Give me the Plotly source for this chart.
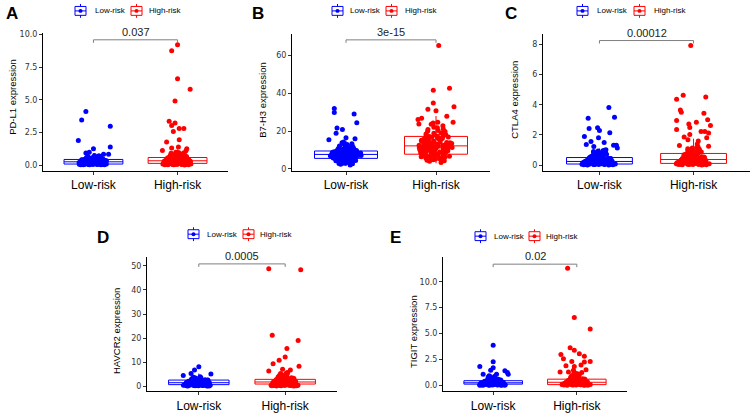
import plotly.graph_objects as go

W, H = 753, 417
BLUE = '#0000FF'
RED = '#FF0000'
GROUPS = ['Low-risk', 'High-risk']
GENES = ['PD-L1', 'B7-H3', 'CTLA4', 'HAVCR2', 'TIGIT']
LETTERS = ['A', 'B', 'C', 'D', 'E']
P_VALUES = ['0.037', '3e-15', '0.00012', '0.0005', '0.02']

# ==================== DATA ====================
# dense bulk of each group (jittered by plotly), plus the scattered upper points
# with their horizontal jitter offsets
A_low_dense = [0.02, 0.05, 0.04, 0.11, 0.08, 0.15, 0.03, 0.19, 0.22, 0.12, 0.27, 0.09, 0.31, 0.18, 0.06,
               0.24, 0.35, 0.14, 0.29, 0.41, 0.07, 0.21, 0.33, 0.16, 0.38, 0.45, 0.10, 0.26, 0.52, 0.13,
               0.30, 0.47, 0.02, 0.20, 0.36, 0.58, 0.17, 0.25, 0.43, 0.08, 0.34, 0.62, 0.23, 0.12, 0.39,
               0.50, 0.05, 0.28, 0.44, 0.19, 0.55, 0.32, 0.15, 0.40, 0.66, 0.09, 0.26, 0.48, 0.21, 0.37,
               0.04, 0.30, 0.57, 0.14, 0.42, 0.71, 0.18, 0.24, 0.35, 0.60, 0.11, 0.27, 0.06, 0.33, 0.19,
               0.46, 0.02, 0.23, 0.38, 0.14, 0.52, 0.29, 0.08, 0.41, 0.17, 0.64, 0.25, 0.03, 0.36, 0.12,
               0.49, 0.21, 0.31, 0.07, 0.56, 0.16, 0.44, 0.27, 0.10, 0.68, 0.34, 0.20, 0.05, 0.39, 0.15,
               0.53, 0.28, 0.74, 0.22, 0.13]
A_low_out = [4.11, 3.46, 2.98, 1.89, 1.39, 1.26, 0.93, 0.98, 0.83, 0.83]
A_low_off = [-0.09, -0.14, 0.20, -0.18, 0.20, 0.00, -0.09, -0.05, 0.12, 0.18]
A_high_dense = [0.03, 0.08, 0.12, 0.05, 0.18, 0.25, 0.10, 0.31, 0.15, 0.42, 0.07, 0.22, 0.36, 0.58, 0.02,
                0.19, 0.28, 0.47, 0.13, 0.65, 0.33, 0.09, 0.24, 0.51, 0.72, 0.16, 0.39, 0.04, 0.27, 0.60,
                0.83, 0.11, 0.35, 0.45, 0.21, 0.68, 0.06, 0.30, 0.55, 0.92, 0.14, 0.40, 0.26, 0.77, 0.01,
                0.18, 0.49, 0.63, 0.34, 0.10, 0.87, 0.23, 0.44, 0.57, 0.07, 0.29, 0.70, 0.38, 0.15, 0.53,
                0.96, 0.20, 0.32, 0.80, 0.12, 0.46, 0.62, 0.25, 0.74, 0.05, 0.37, 0.04, 0.21, 0.43, 0.09,
                0.31, 0.66, 0.15, 0.52, 0.27, 0.85, 0.02, 0.36, 0.19, 0.59, 0.12, 0.41, 0.73, 0.24, 0.06,
                0.48, 0.33, 0.90, 0.17, 0.56, 0.28, 0.11, 0.68, 0.38, 0.22, 0.79, 0.08, 0.45, 0.30, 0.99,
                0.14, 0.61, 0.26, 0.50, 0.03, 0.35]
A_high_out = [9.22, 8.76, 6.62, 5.81, 4.92, 3.36, 3.23, 3.03, 2.80, 2.80, 2.58, 1.95, 1.77, 1.26, 1.30,
              1.11, 1.38, 1.10]
A_high_off = [0.00, -0.07, 0.00, 0.15, -0.03, -0.10, -0.03, -0.07, 0.02, 0.075, -0.05, 0.02, -0.13, 0.11,
              -0.07, -0.18, 0.01, 0.10]

B_low_dense = [2.1, 3.0, 3.8, 4.5, 5.2, 5.9, 6.3, 7.0, 7.4, 8.1, 8.6, 9.2, 10.0, 11.3, 12.5, 13.8, 4.2, 5.5,
               6.8, 7.7, 8.4, 9.6, 3.4, 6.1, 7.2, 8.9, 10.6, 12.0, 5.0, 6.6, 7.9, 9.0, 2.7, 4.8, 6.0, 7.5,
               8.3, 11.8, 14.2, 5.7, 6.9, 8.0, 9.4, 3.9, 6.4, 7.1, 8.7, 10.3, 4.4, 5.3, 7.6, 9.8, 12.9, 6.2,
               7.3, 8.2, 2.5, 5.1, 6.7, 9.1, 11.0, 4.0, 7.8, 10.8, 13.1, 5.8, 6.5, 8.5, 3.2, 7.0, 9.3, 4.7,
               6.0, 8.8, 6.3, 8.0, 4.6, 9.7, 7.2, 5.4, 10.9, 6.8, 8.5, 3.6, 7.5, 9.0, 5.9, 12.2, 6.6, 8.2,
               4.9, 7.9, 11.5, 6.1, 9.5, 2.9, 7.4, 8.8, 5.6, 10.1, 7.0, 6.4, 13.3, 8.6, 4.3, 7.7, 9.9, 5.2,
               6.9, 8.4, 3.1, 7.1, 10.4, 6.0]
B_low_out = [32.0, 29.9, 29.0, 24.4, 21.6, 20.9, 18.9, 16.5, 16.0, 15.5]
B_low_off = [-0.13, -0.13, 0.09, 0.12, -0.10, -0.04, -0.11, 0.00, 0.10, -0.19]
B_high_dense = [3.4, 4.6, 5.1, 6.3, 7.0, 7.8, 8.4, 9.5, 10.2, 11.0, 11.7, 12.4, 13.3, 14.1, 15.2, 16.0, 17.4,
                18.5, 19.8, 21.2, 22.9, 4.1, 5.8, 6.9, 8.1, 9.0, 10.5, 11.9, 12.7, 14.6, 16.5, 18.0, 20.3,
                23.6, 5.4, 6.6, 7.5, 8.8, 9.7, 10.9, 12.2, 13.8, 15.6, 17.1, 19.2, 7.3, 8.6, 10.0, 11.4,
                12.9, 14.4, 16.3, 6.1, 9.3, 11.2, 13.0, 15.0, 18.9, 21.8, 4.9, 7.9, 10.7, 12.5, 14.8, 17.8,
                6.7, 9.9, 12.1, 13.6, 16.9, 8.3, 11.6, 19.9, 24.3, 9.1, 12.6, 7.4, 15.8, 10.8, 5.7, 13.9,
                8.9, 17.3, 11.5, 6.4, 14.9, 10.1, 19.0, 12.0, 8.0, 16.1, 4.4, 11.1, 13.4, 9.6, 20.8, 7.1,
                12.8, 15.4, 10.4, 6.0, 14.0, 18.2, 11.8, 8.7, 22.1, 13.1, 9.4, 16.7, 5.3, 12.3, 10.0, 15.1,
                7.7]
B_high_out = [65.2, 41.6, 42.6, 34.8, 32.9, 31.6, 30.8, 27.8, 26.8, 26.1, 23.8, 24.7, 24.7]
B_high_off = [0.03, -0.03, 0.15, -0.03, 0.20, -0.09, 0.00, 0.12, -0.16, -0.20, -0.19, 0.02, 0.19]

C_low_dense = [0.02, 0.06, 0.01, 0.12, 0.09, 0.18, 0.04, 0.25, 0.14, 0.31, 0.07, 0.21, 0.38, 0.11, 0.45,
               0.03, 0.28, 0.16, 0.52, 0.08, 0.34, 0.60, 0.19, 0.05, 0.42, 0.23, 0.68, 0.13, 0.30, 0.76,
               0.02, 0.48, 0.17, 0.85, 0.26, 0.10, 0.56, 0.36, 0.93, 0.06, 0.22, 0.64, 0.40, 1.02, 0.15,
               0.33, 0.72, 0.04, 0.27, 0.50, 0.11, 0.80, 0.20, 0.44, 0.08, 0.58, 0.35, 0.90, 0.13, 0.24,
               0.66, 0.03, 0.46, 0.18, 0.98, 0.05, 0.19, 0.37, 0.09, 0.28, 0.55, 0.14, 0.03, 0.42, 0.22,
               0.70, 0.11, 0.32, 0.06, 0.49, 0.17, 0.83, 0.25, 0.01, 0.39, 0.13, 0.61, 0.29, 0.08, 0.95,
               0.21, 0.45, 0.15, 0.04, 0.35, 0.74, 0.10, 0.53, 0.26, 0.18, 0.88, 0.07, 0.31, 0.47, 0.12]
C_low_out = [3.82, 3.17, 3.10, 2.47, 2.43, 2.30, 2.14, 1.90, 1.81, 1.57, 1.49, 1.36, 1.31, 1.31, 1.14, 1.24]
C_low_off = [0.10, 0.16, -0.12, -0.02, -0.11, 0.00, 0.11, -0.16, -0.01, -0.09, 0.05, -0.14, 0.15, 0.18,
             0.19, -0.06]
C_high_dense = [0.01, 0.05, 0.10, 0.03, 0.16, 0.08, 0.22, 0.13, 0.30, 0.06, 0.19, 0.37, 0.11, 0.26, 0.45,
                0.02, 0.33, 0.15, 0.53, 0.09, 0.41, 0.24, 0.62, 0.04, 0.29, 0.70, 0.18, 0.48, 0.12, 0.79,
                0.35, 0.07, 0.57, 0.21, 0.88, 0.39, 0.14, 0.66, 0.27, 0.97, 0.02, 0.44, 0.75, 0.17, 1.05,
                0.32, 0.10, 0.60, 0.23, 0.84, 0.50, 0.06, 1.14, 0.36, 0.72, 0.20, 0.43, 0.93, 0.15, 0.55,
                0.28, 1.20, 0.08, 0.64, 0.04, 0.25, 0.52, 0.12, 0.38, 0.81, 0.19, 0.07, 0.46, 0.30, 0.99,
                0.14, 0.63, 0.22, 0.03, 0.41, 0.74, 0.17, 0.55, 0.09, 1.09, 0.33, 0.26, 0.68, 0.11, 0.49,
                0.86, 0.20, 0.05, 0.37, 0.58, 0.15, 1.17, 0.29, 0.44, 0.08, 0.77, 0.24, 0.13, 0.90]
C_high_out = [7.93, 4.64, 4.37, 4.52, 3.65, 3.50, 3.43, 2.95, 3.00, 2.62, 2.73, 2.84, 2.50, 2.36, 2.23,
              2.23, 2.12, 2.03, 1.86, 1.81, 1.68, 1.60, 1.40, 1.30, 1.25]
C_high_off = [-0.03, -0.11, -0.18, 0.13, -0.14, -0.13, 0.11, -0.18, 0.15, 0.18, -0.05, 0.03, -0.04, -0.18,
              0.08, 0.12, 0.16, -0.04, -0.10, 0.14, -0.06, 0.05, 0.04, -0.15, 0.16]

D_low_dense = [0.1, 0.3, 0.5, 0.2, 0.8, 1.1, 0.4, 1.4, 0.7, 1.7, 0.9, 2.0, 0.3, 1.2, 2.3, 0.6, 1.5, 2.6,
               0.2, 1.0, 1.8, 2.9, 0.5, 1.3, 2.1, 3.2, 0.8, 1.6, 2.4, 0.1, 1.1, 3.5, 0.4, 1.9, 2.7, 0.7,
               1.4, 3.8, 0.9, 2.2, 0.3, 1.7, 3.0, 0.6, 1.2, 2.5, 0.2, 1.5, 2.0, 0.8, 3.4, 1.0, 2.8, 0.5,
               1.6, 4.0, 0.4, 1.3, 2.3, 0.6, 1.9, 0.2, 1.3, 2.5, 0.9, 3.1, 0.4, 1.7, 1.0, 2.2, 0.7, 3.6,
               1.5, 0.3, 2.0, 1.1, 2.8, 0.5, 1.8, 0.1, 1.4, 2.6, 0.8, 3.3, 1.2, 0.4, 2.1, 1.6, 0.9]
D_low_out = [8.1, 6.8, 5.3, 5.1, 4.5]
D_low_off = [0.00, -0.05, -0.09, 0.14, -0.18]
D_high_dense = [0.1, 0.4, 0.8, 0.2, 1.2, 0.6, 1.6, 0.3, 2.0, 1.0, 2.4, 0.5, 1.4, 2.8, 0.9, 3.2, 0.2, 1.8,
                3.6, 0.7, 2.2, 1.1, 4.0, 0.4, 2.6, 1.5, 4.5, 0.8, 3.0, 1.9, 5.0, 0.3, 2.3, 1.3, 3.4, 0.6,
                5.5, 1.7, 2.7, 1.0, 3.8, 0.5, 2.1, 1.4, 4.2, 0.9, 2.9, 0.2, 1.6, 3.3, 0.3, 1.5, 2.5, 0.7,
                3.7, 1.2, 0.1, 2.0, 4.8, 0.9, 2.8, 1.6, 0.4, 3.1, 1.9, 5.3, 0.6, 2.4, 1.1, 3.9, 0.2, 1.7,
                2.6, 0.8, 4.4, 1.3, 3.5, 0.5, 2.2, 1.0, 5.7, 1.8, 0.3, 2.9, 1.4, 3.2, 0.7, 2.1, 4.1, 1.2]
D_high_out = [48.8, 48.4, 21.2, 19.0, 15.7, 12.2, 10.8, 9.4, 8.3, 7.1, 6.4, 6.8]
D_high_off = [-0.19, 0.18, -0.15, 0.15, 0.02, 0.00, -0.07, -0.14, 0.16, -0.03, -0.19, 0.06]

E_low_dense = [0.01, 0.04, 0.08, 0.02, 0.13, 0.06, 0.18, 0.10, 0.24, 0.03, 0.15, 0.30, 0.07, 0.21, 0.36,
               0.12, 0.05, 0.27, 0.43, 0.09, 0.19, 0.50, 0.14, 0.33, 0.02, 0.25, 0.58, 0.11, 0.39, 0.17,
               0.66, 0.06, 0.29, 0.46, 0.22, 0.75, 0.13, 0.35, 0.04, 0.54, 0.26, 0.84, 0.16, 0.41, 0.08,
               0.62, 0.31, 0.20, 0.92, 0.10, 0.48, 0.37, 0.05, 0.19, 0.33, 0.09, 0.26, 0.52, 0.14, 0.02,
               0.40, 0.22, 0.68, 0.11, 0.30, 0.07, 0.45, 0.17, 0.80, 0.24, 0.03, 0.37, 0.12, 0.58, 0.28,
               0.06, 0.88, 0.20, 0.42, 0.15, 0.01, 0.34, 0.71, 0.10, 0.49, 0.25, 0.18, 0.62]
E_low_out = [3.88, 2.29, 1.81, 1.70, 1.46, 1.40, 1.25, 1.08, 1.08, 1.08]
E_low_off = [0.00, 0.00, -0.16, 0.00, -0.03, 0.14, 0.17, 0.04, -0.12, 0.18]
E_high_dense = [0.01, 0.05, 0.10, 0.02, 0.16, 0.07, 0.23, 0.12, 0.31, 0.04, 0.19, 0.39, 0.09, 0.27, 0.48,
                0.14, 0.03, 0.35, 0.57, 0.11, 0.22, 0.66, 0.17, 0.44, 0.06, 0.30, 0.76, 0.13, 0.52, 0.20,
                0.86, 0.08, 0.38, 0.61, 0.25, 0.96, 0.15, 0.46, 0.04, 0.71, 0.33, 1.06, 0.18, 0.55, 0.10,
                0.81, 0.41, 0.26, 1.16, 0.12, 0.63, 0.49, 1.24, 0.21, 0.03, 0.22, 0.46, 0.11, 0.34, 0.73,
                0.18, 0.06, 0.54, 0.28, 0.91, 0.14, 0.40, 0.08, 0.62, 0.24, 1.02, 0.32, 0.02, 0.49, 0.16,
                0.79, 0.37, 0.09, 1.12, 0.26, 0.58, 0.19, 0.05, 0.43, 0.68, 0.13, 0.86, 0.30, 0.21, 1.20,
                0.10, 0.52, 0.35, 0.15]
E_high_out = [11.3, 6.54, 5.43, 3.62, 3.40, 2.98, 3.05, 2.80, 2.57, 2.30, 2.26, 2.30, 1.90, 1.81, 1.97,
              1.30, 1.30, 1.46, 1.50]
E_high_off = [-0.11, -0.03, 0.16, -0.08, -0.03, -0.19, 0.03, 0.09, -0.16, -0.06, 0.09, 0.16, -0.13, -0.03,
              0.05, -0.20, -0.10, -0.04, 0.11]

# box stats per panel: [low, high] each (lowerfence, q1, median, q3, upperfence)
BOX_STATS = [
    [(0.0, 0.08, 0.25, 0.43, 0.9), (0.0, 0.13, 0.33, 0.58, 1.2)],
    [(1.5, 5.6, 7.7, 9.5, 15.0), (3.0, 7.8, 12.2, 17.2, 28.0)],
    [(0.0, 0.07, 0.24, 0.50, 1.1), (0.0, 0.11, 0.37, 0.77, 1.75)],
    [(0.0, 0.7, 1.5, 2.6, 5.3), (0.0, 0.95, 1.8, 2.9, 5.7)],
    [(0.0, 0.12, 0.25, 0.45, 0.9), (0.0, 0.07, 0.30, 0.60, 1.3)],
]
BRACKET_Y = [9.6, 68.2, 8.26, 50.8, 11.7]

DENSE = [(A_low_dense, A_high_dense), (B_low_dense, B_high_dense), (C_low_dense, C_high_dense),
         (D_low_dense, D_high_dense), (E_low_dense, E_high_dense)]
OUTS = [((A_low_out, A_low_off), (A_high_out, A_high_off)),
        ((B_low_out, B_low_off), (B_high_out, B_high_off)),
        ((C_low_out, C_low_off), (C_high_out, C_high_off)),
        ((D_low_out, D_low_off), (D_high_out, D_high_off)),
        ((E_low_out, E_low_off), (E_high_out, E_high_off))]

# ==================== LAYOUT (pixels) ====================
GEOM = [
    dict(box=(43, 228, 31, 171), yr=[-0.45, 10.15], dt=2.5, fmt='.1f', tip=0.23,
         letter=(4, 12), ylab=(13, 96), leg=(75, 93, 131, 147, 9)),
    dict(box=(292, 490, 32, 171), yr=[-1.04, 71.5], dt=20, fmt='d', tip=1.56,
         letter=(250, 12), ylab=(263, 99), leg=(332, 348, 386, 403, 9)),
    dict(box=(543, 750, 32, 171), yr=[-0.39, 8.72], dt=2, fmt='d', tip=0.2,
         letter=(503, 12), ylab=(515, 99), leg=(577, 595, 634, 652, 9)),
    dict(box=(147, 337, 258, 394), yr=[-2.05, 53.7], dt=10, fmt='d', tip=1.23,
         letter=(95, 238), ylab=(116, 333), leg=(188, 205, 243, 258, 235)),
    dict(box=(443, 627, 258, 394), yr=[-0.57, 12.4], dt=2.5, fmt='.1f', tip=0.29,
         letter=(388, 238), ylab=(413, 333), leg=(475, 492, 529, 544, 237)),
]

SANS = 'Liberation Sans, Arial, sans-serif'


def fx(px):
    return px / W


def fy(py):
    return 1 - py / H


def legend_glyph(shapes, gx, gy, color):
    # little boxplot key: box, median, whiskers, dot
    w, h, wh = 11, 9, 2.5
    shapes.append(dict(type='rect', xref='paper', yref='paper', x0=fx(gx), x1=fx(gx + w),
                       y0=fy(gy + h / 2), y1=fy(gy - h / 2), line=dict(color=color, width=1)))
    shapes.append(dict(type='line', xref='paper', yref='paper', x0=fx(gx), x1=fx(gx + w),
                       y0=fy(gy), y1=fy(gy), line=dict(color=color, width=1)))
    for a, b in [(gy - h / 2 - wh, gy - h / 2), (gy + h / 2, gy + h / 2 + wh)]:
        shapes.append(dict(type='line', xref='paper', yref='paper', x0=fx(gx + w / 2), x1=fx(gx + w / 2),
                           y0=fy(a), y1=fy(b), line=dict(color=color, width=1)))
    r = 2
    shapes.append(dict(type='circle', xref='paper', yref='paper', x0=fx(gx + w / 2 - r), x1=fx(gx + w / 2 + r),
                       y0=fy(gy + r), y1=fy(gy - r), fillcolor=color, line=dict(color=color, width=0)))


fig = go.Figure()
shapes = []
annotations = []
layout_axes = {}

for i in range(5):
    g = GEOM[i]
    sfx = '' if i == 0 else str(i + 1)
    xa, ya = 'x' + sfx, 'y' + sfx
    colors = [BLUE, RED]
    for k in range(2):
        cat = k + 1
        lf, q1, med, q3, uf = BOX_STATS[i][k]
        fig.add_trace(go.Box(x=[cat], lowerfence=[lf], q1=[q1], median=[med], q3=[q3], upperfence=[uf],
                             width=0.7, whiskerwidth=0, boxpoints=False, fillcolor='rgba(255,255,255,0)',
                             line=dict(color=colors[k], width=1), xaxis=xa, yaxis=ya, hoverinfo='skip'))
        dense = DENSE[i][k]
        fig.add_trace(go.Box(x=[cat] * len(dense), y=dense, width=0.4, boxpoints='all', jitter=1,
                             pointpos=0, fillcolor='rgba(0,0,0,0)', line=dict(color='rgba(0,0,0,0)', width=0),
                             marker=dict(color=colors[k], size=5), xaxis=xa, yaxis=ya, hoverinfo='y'))
        vals, offs = OUTS[i][k]
        fig.add_trace(go.Scatter(x=[cat + o for o in offs], y=vals, mode='markers',
                                 marker=dict(color=colors[k], size=5), xaxis=xa, yaxis=ya))

    l, r, t, b = g['box']
    layout_axes['xaxis' + sfx] = dict(domain=[fx(l), fx(r)], range=[0.4, 2.6], anchor=ya,
                                      tickvals=[1, 2], ticktext=GROUPS, showline=True, linecolor='black',
                                      linewidth=1, ticks='outside', ticklen=3, tickcolor='#333',
                                      showgrid=False, zeroline=False,
                                      tickfont=dict(family=SANS, size=12, color='black'))
    layout_axes['yaxis' + sfx] = dict(domain=[fy(b), fy(t)], range=g['yr'], anchor=xa,
                                      dtick=g['dt'], tick0=0, tickformat=g['fmt'], showline=True,
                                      linecolor='black', linewidth=1, ticks='outside', ticklen=3,
                                      tickcolor='#333', showgrid=False, zeroline=False,
                                      tickfont=dict(family='DejaVu Sans', size=8, color='#333'))

    # p-value bracket
    yb, tip = BRACKET_Y[i], g['tip']
    shapes.append(dict(type='path', xref=xa, yref=ya,
                       path=f'M 1,{yb - tip} L 1,{yb} L 2,{yb} L 2,{yb - tip}',
                       line=dict(color='#7f7f7f', width=1)))
    annotations.append(dict(x=1.5, y=yb, xref=xa, yref=ya, text=P_VALUES[i], showarrow=False,
                            yanchor='bottom', yshift=0, font=dict(family=SANS, size=11, color='#222')))

    # panel letter
    annotations.append(dict(x=fx(g['letter'][0]), y=fy(g['letter'][1]), xref='paper', yref='paper',
                            text=f'<b>{LETTERS[i]}</b>', showarrow=False, xanchor='left', yanchor='middle',
                            font=dict(family=SANS, size=17, color='black')))
    # y title
    annotations.append(dict(x=fx(g['ylab'][0]), y=fy(g['ylab'][1]), xref='paper', yref='paper',
                            text=f'{GENES[i]} expression', textangle=-90, showarrow=False,
                            xanchor='center', yanchor='middle',
                            font=dict(family=SANS, size=9.5, color='black')))
    # legend
    g1, t1, g2, t2, ly = g['leg']
    legend_glyph(shapes, g1, ly, BLUE)
    legend_glyph(shapes, g2, ly, RED)
    for tx, lab in [(t1, GROUPS[0]), (t2, GROUPS[1])]:
        annotations.append(dict(x=fx(tx), y=fy(ly), xref='paper', yref='paper', text=lab, showarrow=False,
                                xanchor='left', yanchor='middle',
                                font=dict(family=SANS, size=8, color='black')))

fig.update_layout(width=W, height=H, margin=dict(l=0, r=0, t=0, b=0), showlegend=False,
                  boxmode='overlay', plot_bgcolor='white', paper_bgcolor='white',
                  shapes=shapes, annotations=annotations, **layout_axes)

fig.write_html("out.html", config={'displayModeBar': False},
               post_script="document.body.style.margin='0px';")
